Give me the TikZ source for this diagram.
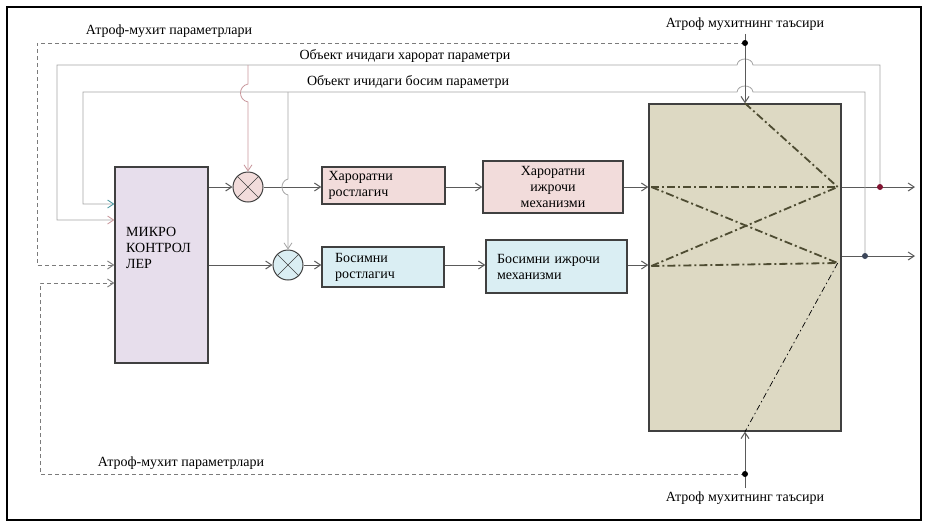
\documentclass[tikz,border=0pt]{standalone}
\usepackage{fontspec}
\setmainfont{Liberation Serif}
\usetikzlibrary{arrows.meta,calc}
\definecolor{mcfill}{RGB}{231,222,236}
\definecolor{hotfill}{RGB}{242,220,219}
\definecolor{presfill}{RGB}{218,238,243}
\definecolor{objfill}{RGB}{221,217,195}
\definecolor{edgegray}{RGB}{64,64,64}
\definecolor{wiregray}{RGB}{90,90,90}
\definecolor{fbgray}{RGB}{165,165,165}
\definecolor{fbpink}{RGB}{200,150,155}
\definecolor{fbteal}{RGB}{70,150,160}
\definecolor{dotred}{RGB}{130,20,50}
\definecolor{dotblue}{RGB}{60,70,90}
\definecolor{dashol}{RGB}{78,76,50}
\begin{document}
\begin{tikzpicture}[x=1pt,y=-1pt,
	txt/.style={font=\fontsize{14}{16}\selectfont},
	block/.style={draw=edgegray,line width=1.4pt,inner sep=0pt,txt},
	sumc/.style={circle,draw=edgegray,line width=1pt,minimum size=30pt,inner sep=0pt},
	wire/.style={draw=wiregray,line width=1pt,-{Straight Barb[length=6pt,width=8pt]}},
	fb/.style={draw=fbgray,line width=0.8pt},
	env/.style={draw=wiregray!80,line width=0.9pt,dash pattern=on 4pt off 3pt,-{Straight Barb[length=6pt,width=8pt]}},
	ddot/.style={draw=dashol,line width=1.8pt,dash pattern=on 8pt off 3pt on 2pt off 3pt}]
	\useasboundingbox(0,0)rectangle(927,523);
	\draw[line width=1.6pt](7,7)rectangle(921,520);
	\node[block,fill=mcfill,minimum width=93,minimum height=196](mc)at(161.5,265){};
	\node[txt,align=left,anchor=north west,inner sep=0pt](mclbl)at(126,227){МИКРО\\КОНТРОЛ\\ЛЕР};
	\node[sumc,fill=hotfill](s1)at(248,187){};
	\node[sumc,fill=presfill](s2)at(288,265){};
	\draw[edgegray](s1.north west)--(s1.south east)(s1.north east)--(s1.south west);
	\draw[edgegray](s2.north west)--(s2.south east)(s2.north east)--(s2.south west);
	\node[block,fill=hotfill,minimum width=123,minimum height=37,align=left,text width=110](hr)at(383.5,185.5){Хароратни\\ростлагич};
	\node[block,fill=hotfill,minimum width=140,minimum height=52,align=center](hm)at(553,187){Хароратни\\ижрочи\\механизми};
	\node[block,fill=presfill,minimum width=122,minimum height=40,align=left,text width=96](br)at(383,267){Босимни\\ростлагич};
	\node[block,fill=presfill,minimum width=141,minimum height=53,align=left,text width=119](bm)at(556.5,266.5){Босимни ижрочи\\механизми};
	\node[block,fill=objfill,minimum width=192,minimum height=327](obj)at(745,267.5){};
	\node[txt](envpar1)at(169,31){Атроф-мухит параметрлари};
	\node[txt](envtop)at(745,24){Атроф мухитнинг таъсири};
	\node[txt](tpar)at(405,56){Объект ичидаги харорат параметри};
	\node[txt](ppar)at(408,82){Объект ичидаги босим параметри};
	\node[txt](envpar2)at(181,463){Атроф-мухит параметрлари};
	\node[txt](envbot)at(745,498){Атроф мухитнинг таъсири};
	\coordinate(t1)at(880,187);
	\coordinate(p1)at(865,256);
	\coordinate(o1)at(915,187);
	\coordinate(o2)at(915,256);
	\coordinate(d1)at(745,43);
	\coordinate(d2)at(745,474);
	\coordinate(l1)at($(obj.west|-s1)+(3,0)$);
	\coordinate(l2)at($(obj.west|-s2)+(3,1)$);
	\coordinate(r1)at($(obj.east|-s1)+(-4,0)$);
	\coordinate(r2)at($(obj.east|-s2)+(-4,-2)$);
	\draw[wire](mc.east|-s1)--(s1);
	\draw[wire](mc.east|-s2)--(s2);
	\draw[wire](s1)--(s1-|hr.west);
	\draw[wire](s2)--(s2-|br.west);
	\draw[wire](hr.east|-s1)--(hm.west|-s1);
	\draw[wire](br.east|-s2)--(bm.west|-s2);
	\draw[wire](hm.east|-s1)--(obj.west|-s1);
	\draw[wire](bm.east|-s2)--(obj.west|-s2);
	\draw[ddot](l1)--(r1);
	\draw[ddot](l2)--(r2);
	\draw[ddot](l1)--(r2);
	\draw[ddot](l2)--(r1);
	\draw[ddot](obj.north)--(r1);
	\draw[line width=0.7pt,dash pattern=on 6pt off 3pt on 1.5pt off 3pt](r2)--(obj.south);
	\draw[wire](obj.east|-t1)--(o1);
	\draw[wire](obj.east|-p1)--(o2);
	\draw[fb,-{Straight Barb[length=6pt,width=8pt,color=fbpink]}](t1)--(880,65)--(753,65)..controls(752,57)and(738,57)..(737,65)--(57,65)|-($(mc.west)+(0,-45)$);
	\draw[fb,-{Straight Barb[length=6pt,width=8pt,color=fbteal]}](p1)--(865,92)--(753,92)..controls(752,84)and(738,84)..(737,92)--(83,92)|-($(mc.west)+(0,-61)$);
	\draw[fb,draw=fbpink,-{Straight Barb[length=6pt,width=8pt]}](248,65)--(248,84)..controls(238,86)and(238,100)..(248,102)--(s1.north);
	\draw[fb,-{Straight Barb[length=6pt,width=8pt]}](288,92)--(288,179)..controls(280,181)and(280,193)..(288,195)--(s2.north);
	\draw[wire](envtop.south)--(obj.north);
	\draw[wire](envbot.north)--(obj.south);
	\draw[env](d1)--(37,43)|-(mc.west);
	\draw[env](d2)--(40,474)|-($(mc.west)+(0,18)$);
	\fill(d1)circle(3);
	\fill(d2)circle(3);
	\fill[dotred](t1)circle(3);
	\fill[dotblue](p1)circle(3);
\end{tikzpicture}
\end{document}
